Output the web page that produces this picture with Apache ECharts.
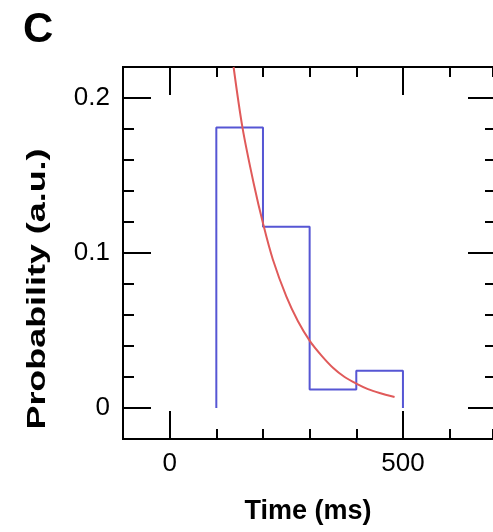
<!DOCTYPE html>
<html>
<head>
<meta charset="utf-8">
<title>Probability vs time</title>
<script src="https://cdn.jsdelivr.net/npm/echarts@6/dist/echarts.min.js"></script>
<style>
  html, body { margin: 0; padding: 0; background: #fff; }
  #chart { width: 493px; height: 532px; }
</style>
</head>
<body>
<div id="chart"></div>
<script>
// histogram bins (ms) and probabilities
var binEdges = [100, 200, 300, 400, 500];
var binProb = [0.181, 0.117, 0.012, 0.024];

// fitted decay curve
var fitTime = [137, 156, 180, 201, 221, 250, 275, 301, 325, 350, 375, 401, 425, 450, 482];
var fitProb = [0.220, 0.181, 0.145, 0.118, 0.096, 0.072, 0.056, 0.043, 0.034, 0.026, 0.020, 0.0156, 0.0122, 0.0097, 0.0071];

var xMajor = [0, 500];
var yMajor = [0, 0.1, 0.2];

// step outline of the histogram
var stepData = [[binEdges[0], 0]];
for (var i = 0; i < binProb.length; i++) {
  stepData.push([binEdges[i], binProb[i]]);
  stepData.push([binEdges[i + 1], binProb[i]]);
}
stepData.push([binEdges[binEdges.length - 1], 0]);

var fitData = fitTime.map(function (t, i) { return [t, fitProb[i]]; });

var txt = { color: '#000', fontFamily: 'Liberation Sans, Arial, sans-serif', fontSize: 26 };
var line = { show: true, onZero: false, lineStyle: { color: '#000', width: 2 } };

// the right side of the frame sits just past the window edge, as in the original crop
function xAx(pos, major) {
  var a = {
    type: 'value', position: pos, min: -100, max: 693,
    axisLine: line, splitLine: { show: false },
    axisTick: { show: true, inside: true, length: major ? 28 : 10, lineStyle: { color: '#000', width: 2 } },
    axisLabel: { show: false }
  };
  if (major) {
    a.axisTick.customValues = xMajor;
    if (pos === 'bottom') {
      a.axisLabel = Object.assign({ show: true, margin: 12, customValues: xMajor }, txt);
      a.name = 'Time (ms)';
      a.nameLocation = 'middle';
      a.nameGap = 59;
      a.nameTextStyle = Object.assign({}, txt, { fontWeight: 'bold', fontSize: 27 });
    }
  } else {
    a.interval = 100;
  }
  return a;
}

function yAx(pos, major) {
  var a = {
    type: 'value', position: pos, min: -0.02, max: 0.22,
    offset: pos === 'right' ? 3 : 0,
    axisLine: line, splitLine: { show: false },
    axisTick: { show: true, inside: true, length: major ? 28 : 11, lineStyle: { color: '#000', width: 2 } },
    axisLabel: { show: false }
  };
  if (major) {
    a.axisTick.customValues = yMajor;
    if (pos === 'left') {
      a.axisLabel = Object.assign({ show: true, margin: 13, customValues: yMajor }, txt);
    }
  } else {
    a.interval = 0.02;
  }
  return a;
}

var chart = echarts.init(document.getElementById('chart'));
chart.setOption({
  animation: false,
  grid: { left: 123, top: 67, right: 0, bottom: 93 },
  xAxis: [xAx('bottom', false), xAx('bottom', true), xAx('top', false), xAx('top', true)],
  yAxis: [yAx('left', false), yAx('left', true), yAx('right', false), yAx('right', true)],
  graphic: [
    {
      type: 'text', x: 23, y: 30,
      style: { text: 'C', align: 'left', verticalAlign: 'middle',
               font: 'bold 42px "Liberation Sans", Arial, sans-serif', fill: '#000' }
    },
    {
      type: 'text', x: 38, y: 289, rotation: Math.PI / 2, scaleX: 1.38,
      style: { text: 'Probability (a.u.)', align: 'center', verticalAlign: 'middle',
               font: 'bold 26px "Liberation Sans", Arial, sans-serif', fill: '#000' }
    }
  ],
  series: [
    {
      type: 'line', data: stepData, symbol: 'none',
      lineStyle: { color: '#5656d4', width: 2 }
    },
    {
      type: 'line', data: fitData, symbol: 'none', smooth: 0.3,
      lineStyle: { color: '#e05a5a', width: 2 }
    }
  ]
});
</script>
</body>
</html>
